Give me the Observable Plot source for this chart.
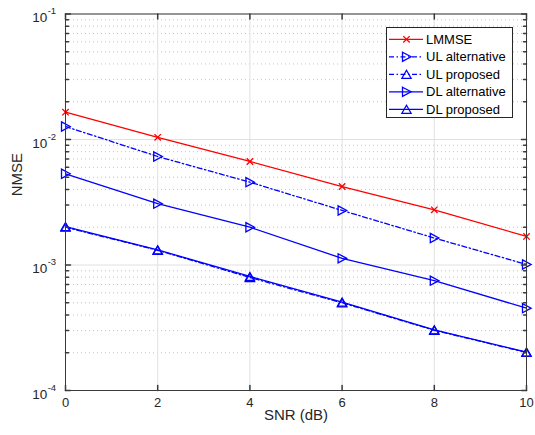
<!DOCTYPE html>
<html>
<head>
<meta charset="utf-8">
<script src="https://cdn.jsdelivr.net/npm/d3@7"></script>
<script src="https://cdn.jsdelivr.net/npm/@observablehq/plot@0.6"></script>
<style>
  html, body { margin: 0; padding: 0; background: #fff; }
  #wrap { position: relative; width: 535px; height: 435px; }
  #wrap svg { font-family: "Liberation Sans", Arial, sans-serif; }
  #legend { position: absolute; left: 386px; top: 27px; }
</style>
</head>
<body>
<div id="wrap"></div>
<script>
// ---- data ----
const snr = [0, 2, 4, 6, 8, 10];
const lmmse   = [0.0165, 0.0104, 0.00668, 0.00422, 0.00275, 0.00169];
const ulAlt   = [0.0127, 0.00732, 0.00457, 0.00272, 0.00164, 0.00101];
const ulProp  = [0.00200, 0.00131, 0.000795, 0.000500, 0.000302, 0.000201];
const dlAlt   = [0.00533, 0.00308, 0.00200, 0.00113, 0.000750, 0.000453];
const dlProp  = [0.00202, 0.00132, 0.000810, 0.000506, 0.000304, 0.000202];
const seriesNames = ["LMMSE", "UL alternative", "UL proposed", "DL alternative", "DL proposed"];

const xTicks = [0, 2, 4, 6, 8, 10];
const yMajor = [1e-4, 1e-3, 1e-2, 1e-1];
const yExp = ["-4", "-3", "-2", "-1"];
const yMinor = [];
for (const k of [-4, -3, -2]) for (let m = 2; m <= 9; m++) yMinor.push(m * Math.pow(10, k));

// ---- symbols ----
const triUp = { draw(c) { c.moveTo(0, -4); c.lineTo(4.6, 4); c.lineTo(-4.6, 4); c.closePath(); } };
const triRight = { draw(c) { c.moveTo(-4, -4.6); c.lineTo(4.6, 0); c.lineTo(-4, 4.6); c.closePath(); } };
const cross = { draw(c) { c.moveTo(-3.2, -3.2); c.lineTo(3.2, 3.2); c.moveTo(3.2, -3.2); c.lineTo(-3.2, 3.2); } };
const tickShape = { draw(c, l) { c.moveTo(0, 0); c.lineTo(0, -l); } };

const styles = [
  { values: lmmse,  color: "#ff0000", dash: null,            symbol: cross },
  { values: ulAlt,  color: "#0000ff", dash: "5,2.5,1.5,2.5", symbol: triRight },
  { values: ulProp, color: "#0000ff", dash: "5,2.5,1.5,2.5", symbol: triUp },
  { values: dlAlt,  color: "#0000ff", dash: null,            symbol: triRight },
  { values: dlProp, color: "#0000ff", dash: null,            symbol: triUp }
];

const rows = s => snr.map((x, i) => ({ x, y: s.values[i] }));
const axisColor = "#3a3a3a";

const dataMarks = [];
styles.forEach(s => {
  dataMarks.push(Plot.line(rows(s), { x: "x", y: "y", stroke: s.color, strokeWidth: 1.3, strokeDasharray: s.dash }));
  dataMarks.push(Plot.dot(rows(s), { x: "x", y: "y", symbol: s.symbol, r: 4, stroke: s.color, fill: "none", strokeWidth: 1.3 }));
});

const chart = Plot.plot({
  width: 535, height: 435,
  marginLeft: 65, marginRight: 9, marginTop: 13.5, marginBottom: 45,
  style: { fontFamily: "Liberation Sans, Arial, sans-serif", background: "#fff" },
  x: { domain: [0, 10], axis: null },
  y: { type: "log", domain: [1e-4, 1e-1], axis: null },
  marks: [
    Plot.ruleY(yMinor, { y: d => d, stroke: "#c4c4c4", strokeDasharray: "1,3" }),
    Plot.ruleX(xTicks, { x: d => d, stroke: "#e0e0e0" }),
    Plot.ruleY(yMajor, { y: d => d, stroke: "#e0e0e0" }),
    ...dataMarks,
    // inward ticks
    Plot.vector(yMajor, { y: d => d, frameAnchor: "left", length: 5, rotate: 90, anchor: "start", shape: tickShape, stroke: axisColor }),
    Plot.vector(yMinor, { y: d => d, frameAnchor: "left", length: 3, rotate: 90, anchor: "start", shape: tickShape, stroke: axisColor }),
    Plot.vector(yMajor, { y: d => d, frameAnchor: "right", length: 5, rotate: -90, anchor: "start", shape: tickShape, stroke: axisColor }),
    Plot.vector(yMinor, { y: d => d, frameAnchor: "right", length: 3, rotate: -90, anchor: "start", shape: tickShape, stroke: axisColor }),
    Plot.vector(xTicks, { x: d => d, frameAnchor: "bottom", length: 5, rotate: 0, anchor: "start", shape: tickShape, stroke: axisColor }),
    Plot.vector(xTicks, { x: d => d, frameAnchor: "top", length: 5, rotate: 180, anchor: "start", shape: tickShape, stroke: axisColor }),
    Plot.frame({ stroke: axisColor, strokeWidth: 1 }),
    // tick labels
    Plot.text(xTicks, { x: d => d, text: d => String(d), frameAnchor: "bottom", dy: 16.5, fontSize: 13, fill: "#262626" }),
    Plot.text(yMajor, { y: d => d, text: () => "10", frameAnchor: "left", textAnchor: "end", dx: -18.3, dy: 4, fontSize: 13.5, fill: "#262626" }),
    Plot.text(yMajor, { y: d => d, text: (d, i) => yExp[i], frameAnchor: "left", textAnchor: "start", dx: -17.8, dy: -3, fontSize: 9.5, fill: "#262626" }),
    // axis labels
    Plot.text(["SNR (dB)"], { text: d => d, frameAnchor: "bottom", dy: 29.5, fontSize: 15, fill: "#262626" }),
    Plot.text(["NMSE"], { text: d => d, frameAnchor: "left", rotate: -90, dx: -48, dy: -6, fontSize: 15, fill: "#262626" })
  ]
});

const wrap = document.getElementById("wrap");
wrap.appendChild(chart);

// ---- legend ----
const lw = 127, lh = 91;
const leg = d3.create("svg").attr("id", "legend").attr("width", lw).attr("height", lh)
  .style("font-family", "Liberation Sans, Arial, sans-serif");
leg.append("rect").attr("x", 0.5).attr("y", 0.5).attr("width", lw - 1).attr("height", lh - 1)
  .attr("fill", "#fff").attr("stroke", "#262626").attr("stroke-width", 1);
styles.forEach((s, i) => {
  const cy = 12.3 + i * 17.5;
  const g = leg.append("g");
  g.append("line").attr("x1", 3).attr("x2", 37).attr("y1", cy).attr("y2", cy)
    .attr("stroke", s.color).attr("stroke-width", 1.3).attr("stroke-dasharray", s.dash);
  const p = d3.path(); s.symbol.draw(p);
  g.append("path").attr("d", p.toString()).attr("transform", `translate(20.5,${cy})`)
    .attr("fill", "none").attr("stroke", s.color).attr("stroke-width", 1.3);
  g.append("text").attr("x", 40).attr("y", cy).attr("dy", "0.35em").attr("font-size", 13)
    .attr("fill", "#000").text(seriesNames[i]);
});
wrap.appendChild(leg.node());
</script>
</body>
</html>
